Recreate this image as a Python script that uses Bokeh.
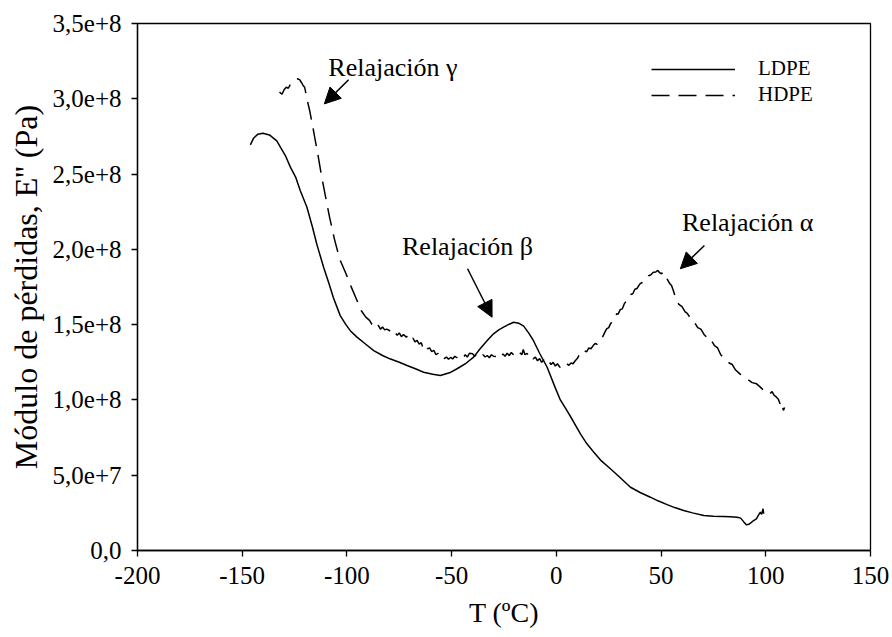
from bokeh.plotting import figure
from bokeh.models import FixedTicker, Arrow, NormalHead, Legend, LegendItem, ColumnDataSource, Range1d
from bokeh.core.properties import value
from bokeh.embed import file_html
from bokeh.resources import INLINE

FONT = "Liberation Serif"

# LDPE (solid) : temperature (ºC) and loss modulus (x1e8 Pa)
ldpe_t = [-146.1, -144.5, -142.5, -140.1, -137, -133.5, -129.4, -127, -124.5, -122.3, -119.1, -116.5,
          -114.3, -111.1, -108.5, -106.5, -103.2, -100.5, -98.4, -95.2, -91, -87.2, -83, -79.5, -75,
          -71.3, -67, -63.4, -59, -55.4, -51, -47.4, -43, -39.5, -36.4, -33, -30, -27.5, -25.2, -22.5,
          -20.4, -18, -15.6, -13, -10.8, -8, -4.4, -0.5, 1.9, 5, 8, 11.5, 14.5, 17.9, 21.5, 25.8, 30,
          35.4, 40, 44.9, 48.5, 52.9, 56.5, 60.8, 65, 70.4, 75, 79.9, 83, 86.3, 88, 89.5, 90.7, 92, 93,
          94.2, 95.5, 96.5, 97.4, 98, 98.7, 99]
ldpe_e = [2.694, 2.74, 2.765, 2.771, 2.76, 2.72, 2.623, 2.546, 2.48, 2.391, 2.28, 2.15,
          2.03, 1.88, 1.77, 1.68, 1.56, 1.50, 1.46, 1.417, 1.37, 1.328, 1.295, 1.273, 1.25,
          1.229, 1.205, 1.184, 1.17, 1.162, 1.18, 1.207, 1.245, 1.284, 1.34, 1.395, 1.439, 1.465, 1.483, 1.503,
          1.516, 1.51, 1.49, 1.44, 1.39, 1.31, 1.217, 1.08, 1.0, 0.93, 0.86, 0.775, 0.71, 0.653, 0.595, 0.543, 0.49,
          0.42, 0.385, 0.354, 0.33, 0.305, 0.285, 0.266, 0.25, 0.232, 0.228, 0.226, 0.224, 0.221, 0.215, 0.19, 0.171, 0.175, 0.185,
          0.199, 0.21, 0.235, 0.254, 0.24, 0.277, 0.244]

# HDPE (dashed)
hdpe_t = [-132.2, -131, -130, -129, -128, -127, -125.8, -124.5, -123.4, -122.5, -121.8, -121, -120.2,
          -119.5, -118.6, -117.8, -116.5, -115.4, -114, -112.3, -110.5, -108.3, -106, -103.5, -100.5,
          -97.9, -95.5, -93.2, -91, -89.2, -88, -87, -86, -85, -84, -83, -82, -81, -79.7, -78.5, -77.5,
          -76, -75, -74, -73, -71.7, -70.5, -69.5, -68.5, -67.5, -66.5, -65.5, -64.5, -63.8, -62.5, -61.5,
          -60.5, -59.5, -58.5, -57.5, -56.5, -55.8, -54.5, -53.5, -52.5, -51.5, -50.5, -49.5, -48.5, -47.9,
          -46.5, -45.5, -44.5, -43.5, -42.5, -41.5, -40, -39, -38, -37, -36.5, -35, -34, -33, -32, -31, -30,
          -28.6, -27.5, -26.5, -25.5, -24.5, -23.5, -22.5, -21.5, -20.6, -19.5, -18.5, -17.5, -16.5, -15.8,
          -15, -14, -13, -12, -11.1, -10, -9, -8, -7, -6, -4.7, -3.5, -2.5, -1.5, -0.5, 0.5, 1.7, 3, 4, 5,
          6, 7, 8, 9, 10, 11.2, 12.5, 13.5, 14.5, 15.5, 16.5, 17.6, 18.5, 19.5, 20.5, 21.5, 22.5, 23, 24,
          25, 26, 27, 28, 28.8, 29.5, 30.5, 31.5, 32.5, 33.5, 34.5, 35.5, 36.5, 37.5, 38.5, 39.9, 41, 42,
          43, 44, 45, 46.3, 47.5, 48.5, 49.3, 50.2, 51, 52, 53, 54.2, 55, 56, 57.4, 58.5, 60, 61.5, 62.5,
          63.7, 65, 66, 67.5, 69, 70.5, 71.7, 73, 74, 75.5, 77, 78.5, 79.6, 81, 82.5, 84, 85.5, 87.6, 89,
          90.5, 92, 93.5, 95.6, 97, 98.5, 100, 101, 102, 103, 104, 105, 106, 106.8, 107.5, 108.4, 109]
hdpe_e = [3.044, 3.03, 3.06, 3.077, 3.07, 3.095, 3.11, 3.13, 3.133, 3.125, 3.11, 3.09, 3.077,
          3.03, 2.97, 2.922, 2.83, 2.745, 2.64, 2.502, 2.37, 2.214, 2.07, 1.937, 1.84,
          1.749, 1.67, 1.594, 1.55, 1.528, 1.50, 1.515, 1.49, 1.495, 1.47, 1.485, 1.465, 1.47, 1.461, 1.44, 1.455,
          1.43, 1.445, 1.42, 1.435, 1.417, 1.43, 1.40, 1.41, 1.385, 1.395, 1.37, 1.38, 1.35, 1.37, 1.34,
          1.345, 1.32, 1.33, 1.30, 1.31, 1.284, 1.29, 1.275, 1.285, 1.27, 1.282, 1.272, 1.29, 1.284,
          1.275, 1.29, 1.28, 1.30, 1.285, 1.31, 1.306, 1.29, 1.305, 1.285, 1.284, 1.30, 1.285, 1.295, 1.28, 1.30, 1.29,
          1.288, 1.30, 1.285, 1.305, 1.29, 1.31, 1.295, 1.315, 1.302, 1.31, 1.295, 1.315, 1.30, 1.335,
          1.30, 1.31, 1.285, 1.295, 1.273, 1.285, 1.26, 1.275, 1.25, 1.265, 1.24, 1.255, 1.235, 1.25, 1.225, 1.24, 1.217, 1.235, 1.225, 1.24,
          1.23, 1.245, 1.24, 1.26, 1.275, 1.306, 1.30, 1.325, 1.32, 1.345, 1.34, 1.361, 1.375, 1.37, 1.40, 1.405, 1.43, 1.445, 1.472,
          1.48, 1.51, 1.515, 1.55, 1.572, 1.57, 1.60, 1.605, 1.64, 1.66, 1.665, 1.70, 1.705, 1.735, 1.74, 1.771, 1.78, 1.80,
          1.805, 1.825, 1.83, 1.848, 1.85, 1.86, 1.845, 1.838, 1.85, 1.835, 1.80, 1.771, 1.76, 1.72, 1.66, 1.635, 1.62, 1.585, 1.575,
          1.55, 1.52, 1.515, 1.48, 1.47, 1.435, 1.417, 1.39, 1.395, 1.36, 1.345, 1.30, 1.284, 1.27, 1.245, 1.235, 1.20, 1.173, 1.16,
          1.14, 1.13, 1.115, 1.107, 1.09, 1.07, 1.06, 1.04, 1.041, 1.055, 1.03, 1.02, 1.005, 0.974, 0.99, 0.93, 0.95]

x_ticks = [-200, -150, -100, -50, 0, 50, 100, 150]
x_tick_labels = ["-200", "-150", "-100", "-50", "0", "50", "100", "150"]
y_ticks = [0.0, 0.5e8, 1.0e8, 1.5e8, 2.0e8, 2.5e8, 3.0e8, 3.5e8]
y_tick_labels = ["0,0", "5,0e+7", "1,0e+8", "1,5e+8", "2,0e+8", "2,5e+8", "3,0e+8", "3,5e+8"]

ann_text = ["Relajación γ", "Relajación β", "Relajación α"]
ann_t = [-108.9, -73.7, 60.0]
ann_e = [3.208, 2.019, 2.18]
arrow_t0 = [-99.2, -42.4, 70.7]
arrow_e0 = [3.126, 1.871, 2.026]
arrow_t1 = [-110.8, -30.7, 59.2]
arrow_e1 = [2.966, 1.549, 1.871]

SCALE = 1e8

p = figure(width=892, height=637, output_backend="svg", toolbar_location=None,
           x_range=Range1d(-200, 150), y_range=Range1d(0, 3.5e8),
           min_border_left=137, min_border_right=22, min_border_top=23, min_border_bottom=87)
p.grid.visible = False
p.outline_line_color = "black"
p.outline_line_width = 1.3
p.background_fill_color = "white"
p.border_fill_color = "white"

for ax in (p.xaxis[0], p.yaxis[0]):
    ax.axis_line_color = "black"
    ax.axis_line_width = 1.3
    ax.major_tick_line_color = "black"
    ax.major_tick_line_width = 1.3
    ax.major_tick_in = 0
    ax.major_tick_out = 6
    ax.minor_tick_line_color = None
    ax.major_label_text_font = FONT
    ax.major_label_text_font_size = "25px"
    ax.major_label_text_color = "black"
    ax.axis_label_text_font = FONT
    ax.axis_label_text_font_style = "normal"
    ax.axis_label_text_color = "black"
    ax.major_label_standoff = 10

p.xaxis.ticker = FixedTicker(ticks=x_ticks)
p.xaxis.major_label_overrides = {t: l for t, l in zip(x_ticks, x_tick_labels)}
p.yaxis.ticker = FixedTicker(ticks=y_ticks)
p.yaxis.major_label_overrides = {t: l for t, l in zip(y_ticks, y_tick_labels)}
p.xaxis.axis_label = "T (ºC)"
p.yaxis.axis_label = "Módulo de pérdidas, E'' (Pa)"
p.xaxis.axis_label_text_font_size = "28px"
p.yaxis.axis_label_text_font_size = "32px"
p.xaxis.axis_label_standoff = 10
p.yaxis.axis_label_standoff = 6

src_l = ColumnDataSource(dict(t=ldpe_t, e=[v * SCALE for v in ldpe_e]))
src_h = ColumnDataSource(dict(t=hdpe_t, e=[v * SCALE for v in hdpe_e]))
r_l = p.line("t", "e", source=src_l, line_color="black", line_width=1.5)
r_h = p.line("t", "e", source=src_h, line_color="black", line_width=1.5, line_dash="18 9")

src_a = ColumnDataSource(dict(t=ann_t, e=[v * SCALE for v in ann_e], txt=ann_text))
p.text("t", "e", text="txt", source=src_a, text_font=value(FONT), text_font_size="26px",
       text_color="black", text_baseline="alphabetic", text_align="left")

for t0, e0, t1, e1 in zip(arrow_t0, arrow_e0, arrow_t1, arrow_e1):
    p.add_layout(Arrow(x_start=t0, y_start=e0 * SCALE, x_end=t1, y_end=e1 * SCALE,
                       line_color="black", line_width=1.5,
                       end=NormalHead(size=16, fill_color="black", line_color="black")))

legend = Legend(items=[LegendItem(label="LDPE", renderers=[r_l]),
                       LegendItem(label="HDPE", renderers=[r_h])],
                location=(514, 443), orientation="vertical",
                background_fill_alpha=0, border_line_alpha=0,
                glyph_width=84, glyph_height=20, label_standoff=23,
                label_text_font=FONT, label_text_font_size="21px", label_text_color="black",
                label_height=20, spacing=1, padding=0, margin=0)
p.add_layout(legend)

open("out.html", "w").write(file_html(p, INLINE))
